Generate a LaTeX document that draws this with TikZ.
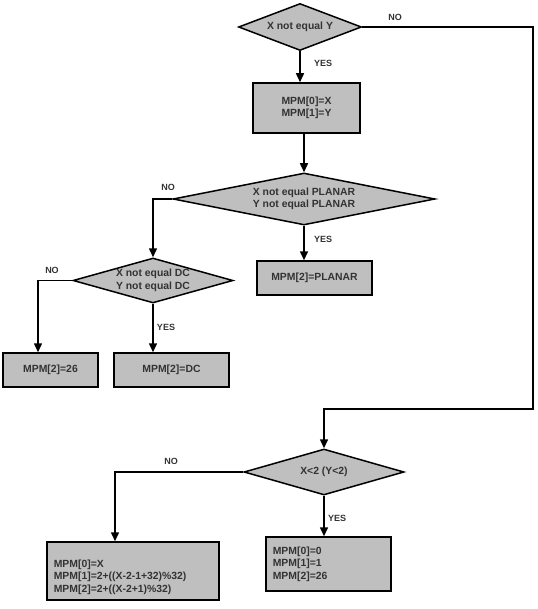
\documentclass[tikz,border=0pt]{standalone}
\usepackage{fontspec}
\setmainfont{Liberation Sans}
\usetikzlibrary{shapes.geometric,arrows.meta}
\begin{document}
\begin{tikzpicture}[x=1pt,y=-1pt,
  boxtxt/.style={font=\fontsize{10.4}{12.5}\selectfont\bfseries, text=black!80},
  lbl/.style={font=\fontsize{9}{10}\selectfont\bfseries, text=black!80},
  proc/.style={draw=black, line width=1.5pt, fill=black!25, rectangle, inner sep=0pt},
  dia/.style={draw=black, line width=1.5pt, fill=black!25, diamond, inner sep=0pt},
  conn/.style={draw=black, line width=1.5pt, -{Triangle[length=9pt,width=8pt]}},
  plain/.style={draw=black, line width=1.5pt}]
\useasboundingbox (0,0) rectangle (537,609);

% decisions
\node[dia, minimum width=123, minimum height=47] (d1) at (300,27) {};
\node[boxtxt] at (d1) {X not equal Y};
\node[dia, minimum width=262, minimum height=52] (d2) at (304,199) {};
\node[boxtxt, align=center] at (d2) {X not equal PLANAR\\Y not equal PLANAR};
\node[dia, minimum width=160, minimum height=45] (d3) at (153,280.5) {};
\node[boxtxt, align=center] at (d3) {X not equal DC\\Y not equal DC};
\node[dia, minimum width=160, minimum height=46] (d4) at (324,472) {};
\node[boxtxt] at (d4) {X<2 (Y<2)};

% process boxes
\node[proc, minimum width=107, minimum height=50, boxtxt, align=center] (b1) at (306.5,108) {MPM[0]=X\\MPM[1]=Y};
\node[proc, minimum width=115, minimum height=34, boxtxt] (bpl) at (314.5,278) {MPM[2]=PLANAR};
\node[proc, minimum width=95, minimum height=34, boxtxt] (b26) at (50.5,370) {MPM[2]=26};
\node[proc, minimum width=115, minimum height=34, boxtxt] (bdc) at (171.5,370) {MPM[2]=DC};
\node[proc, minimum width=125, minimum height=54] (byes) at (328.5,564) {};
\node[boxtxt, anchor=west, align=left] at ([xshift=4]byes.west) {MPM[0]=0\\MPM[1]=1\\MPM[2]=26};
\node[proc, minimum width=172, minimum height=58] (bno) at (133,571) {};
\node[boxtxt, anchor=west, align=left] at ([xshift=4,yshift=-6]bno.west) {MPM[0]=X\\MPM[1]=2+((X-2-1+32)\%32)\\MPM[2]=2+((X-2+1)\%32)};

% connectors
\coordinate (r1) at (533,27);
\coordinate (r2) at (533,409);
\draw[conn] (d1.south) -- (d1.south |- b1.north);
\draw[conn] (d1.east) -- (r1) -- (r2) -| (d4.north);
\draw[conn] (b1.south -| d2.north) -- (d2.north);
\draw[conn] (d2.west) -| (d3.north);
\draw[conn] (d2.south) -- (d2.south |- bpl.north);
\draw[conn] (d3.west) -| ([xshift=-12.5]b26.north);
\draw[conn] (d3.south) -- (d3.south |- bdc.north);
\draw[conn] (d4.west) -| ([xshift=-18]bno.north);
\draw[conn] (d4.south) -- (d4.south |- byes.north);

% labels
\node[lbl] at (395,17) {NO};
\node[lbl] at (323,63) {YES};
\node[lbl] at (168,187) {NO};
\node[lbl] at (323,239) {YES};
\node[lbl] at (52,270) {NO};
\node[lbl] at (166,327) {YES};
\node[lbl] at (171,461) {NO};
\node[lbl] at (337,518) {YES};
\end{tikzpicture}
\end{document}
